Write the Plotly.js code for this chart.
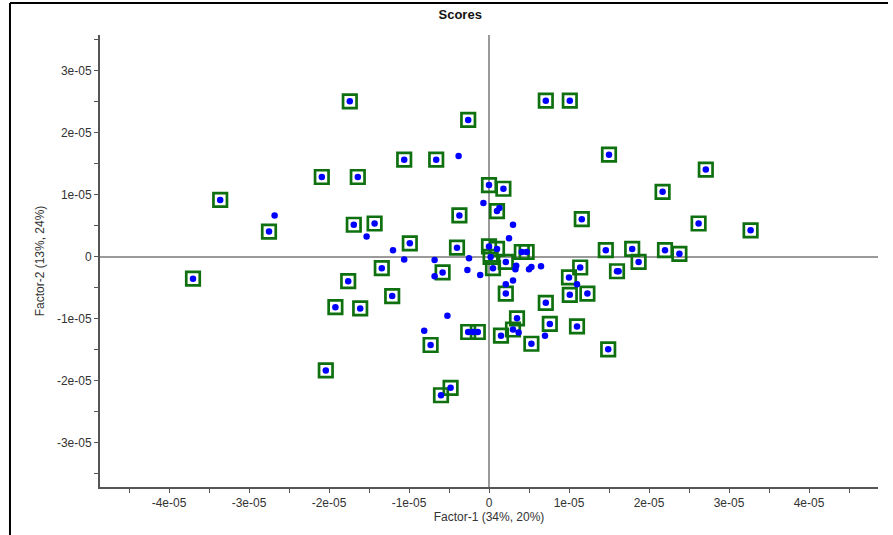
<!DOCTYPE html>
<html>
<head>
<meta charset="utf-8">
<script src="https://cdn.plot.ly/plotly-3.0.1.min.js"></script>
<style>html,body{margin:0;padding:0;background:#fff;}#chart{width:893px;height:535px;}</style>
</head>
<body>
<div id="chart"></div>
<script>
// Samples marked with a green square (score coordinates)
const markedX = [-1.74e-5,-0.26e-5,0.71e-5,1.01e-5,1.50e-5,2.71e-5,2.17e-5,-1.06e-5,-0.66e-5,-2.09e-5,
  -1.64e-5,-3.36e-5,-2.75e-5,-1.69e-5,-1.43e-5,0.00e-5,0.18e-5,0.10e-5,-0.37e-5,1.16e-5,
  -0.99e-5,-0.40e-5,0.00e-5,0.10e-5,0.02e-5,0.05e-5,0.21e-5,0.41e-5,0.47e-5,2.62e-5,
  3.27e-5,1.46e-5,1.79e-5,2.20e-5,2.38e-5,1.87e-5,1.14e-5,1.60e-5,1.00e-5,-3.70e-5,
  -1.76e-5,-1.34e-5,-0.58e-5,-1.92e-5,-1.61e-5,-1.21e-5,-2.04e-5,0.21e-5,1.01e-5,1.23e-5,
  0.71e-5,0.35e-5,0.76e-5,1.10e-5,0.30e-5,-0.26e-5,-0.14e-5,0.15e-5,0.53e-5,-0.73e-5,
  1.49e-5,-0.48e-5,-0.60e-5];
const markedY = [2.51e-5,2.21e-5,2.52e-5,2.52e-5,1.65e-5,1.41e-5,1.05e-5,1.57e-5,1.57e-5,1.29e-5,
  1.29e-5,0.92e-5,0.41e-5,0.52e-5,0.54e-5,1.16e-5,1.10e-5,0.74e-5,0.67e-5,0.61e-5,
  0.22e-5,0.15e-5,0.17e-5,0.13e-5,0.00e-5,-0.18e-5,-0.08e-5,0.08e-5,0.08e-5,0.54e-5,
  0.43e-5,0.11e-5,0.13e-5,0.11e-5,0.05e-5,-0.08e-5,-0.17e-5,-0.23e-5,-0.33e-5,-0.35e-5,
  -0.39e-5,-0.18e-5,-0.25e-5,-0.81e-5,-0.83e-5,-0.63e-5,-1.83e-5,-0.59e-5,-0.61e-5,-0.59e-5,
  -0.74e-5,-0.99e-5,-1.08e-5,-1.12e-5,-1.17e-5,-1.21e-5,-1.21e-5,-1.27e-5,-1.40e-5,-1.42e-5,
  -1.49e-5,-2.11e-5,-2.23e-5];

// Remaining samples (blue dot only)
const otherX = [-0.38e-5,-0.07e-5,0.13e-5,0.30e-5,0.25e-5,-1.20e-5,-1.06e-5,-0.68e-5,-0.25e-5,-0.68e-5,
  -0.27e-5,-0.11e-5,0.34e-5,0.33e-5,0.50e-5,0.53e-5,0.65e-5,1.10e-5,0.21e-5,0.30e-5,
  -0.52e-5,0.37e-5,-0.81e-5,-0.20e-5,0.70e-5,-2.68e-5,-1.53e-5,1.62e-5];
const otherY = [1.63e-5,0.87e-5,0.79e-5,0.52e-5,0.30e-5,0.11e-5,-0.04e-5,-0.05e-5,-0.02e-5,-0.31e-5,
  -0.21e-5,-0.29e-5,-0.14e-5,-0.20e-5,-0.20e-5,-0.16e-5,-0.15e-5,-0.44e-5,-0.44e-5,-0.38e-5,
  -0.95e-5,-1.22e-5,-1.19e-5,-1.21e-5,-1.27e-5,0.67e-5,0.33e-5,-0.23e-5];

const xTickVals = [-4e-5,-3e-5,-2e-5,-1e-5,0,1e-5,2e-5,3e-5,4e-5];
const xTickText = ["-4e-05","-3e-05","-2e-05","-1e-05","0","1e-05","2e-05","3e-05","4e-05"];
const yTickVals = [-3e-5,-2e-5,-1e-5,0,1e-5,2e-5,3e-5];
const yTickText = ["-3e-05","-2e-05","-1e-05","0","1e-05","2e-05","3e-05"];

const allX = markedX.concat(otherX);
const allY = markedY.concat(otherY);

const traces = [
  {type:'scatter', mode:'markers', x:markedX, y:markedY, hoverinfo:'skip',
   marker:{symbol:'square-open', size:13.5, color:'#0f700f', line:{width:2.7, color:'#0f700f'}}},
  {type:'scatter', mode:'markers', x:allX, y:allY,
   marker:{symbol:'circle', size:6.5, color:'#0000ff', line:{width:0}}}
];

const axisFont = {family:'"Liberation Sans", Arial, sans-serif', size:12, color:'#333'};
const layout = {
  width:893, height:535, showlegend:false,
  paper_bgcolor:'#fff', plot_bgcolor:'#fff',
  margin:{l:100, r:15, t:35, b:48},
  title:{text:'<b>Scores</b>', x:0.463, xref:'paper', xanchor:'center', y:0.973, yref:'container', yanchor:'middle',
         font:{family:'"Liberation Sans Narrow", "Liberation Sans", Arial, sans-serif', size:13, color:'#111'}},
  xaxis:{range:[-4.8625e-5, 4.8625e-5], tickmode:'array', tickvals:xTickVals, ticktext:xTickText,
         showgrid:false, zeroline:true, zerolinecolor:'#9a9a9a', zerolinewidth:1.5,
         showline:true, linecolor:'#555', linewidth:2, ticks:'outside', ticklen:4, tickcolor:'#555', tickwidth:1,
         minor:{dtick:5e-6, tick0:0, ticks:'outside', ticklen:4, tickcolor:'#555', showgrid:false},
         tickfont:axisFont, fixedrange:true,
         title:{text:'Factor-1 (34%, 20%)', standoff:3, font:{family:'"Liberation Sans", Arial, sans-serif', size:12, color:'#333'}}},
  yaxis:{range:[-3.71e-5, 3.58e-5], tickmode:'array', tickvals:yTickVals, ticktext:yTickText,
         showgrid:false, zeroline:true, zerolinecolor:'#9a9a9a', zerolinewidth:1.5,
         showline:true, linecolor:'#555', linewidth:2, ticks:'outside', ticklen:4, tickcolor:'#555', tickwidth:1,
         minor:{dtick:5e-6, tick0:0, ticks:'outside', ticklen:4, tickcolor:'#555', showgrid:false},
         tickfont:axisFont, fixedrange:true,
         title:{text:'Factor-2 (13%, 24%)', standoff:10, font:{family:'"Liberation Sans", Arial, sans-serif', size:12, color:'#333'}}},
  shapes:[
    {type:'line', xref:'paper', yref:'paper', x0:-0.1157, x1:1.0129, y0:1.0708, y1:1.0708, line:{color:'#000', width:2}},
    {type:'line', xref:'paper', yref:'paper', x0:-0.1157, x1:-0.1157, y0:1.0708, y1:-0.11, line:{color:'#000', width:2}}
  ]
};

Plotly.newPlot('chart', traces, layout, {displayModeBar:false, staticPlot:true});
</script>
</body>
</html>
